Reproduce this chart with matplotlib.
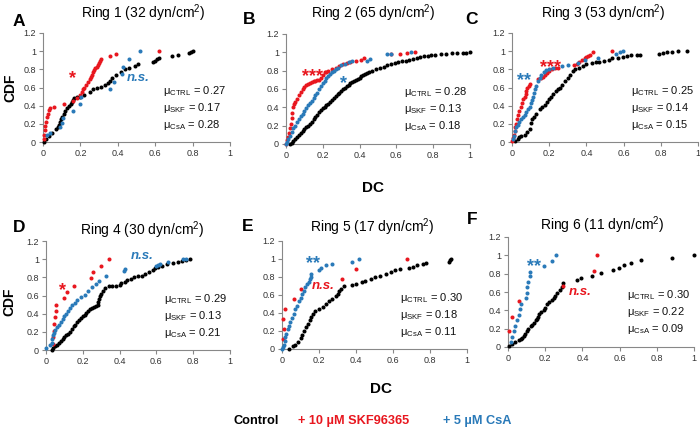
import matplotlib
matplotlib.use('Agg')
import matplotlib.pyplot as plt

plt.rcParams['font.family'] = ['Liberation Sans', 'DejaVu Sans']
plt.rcParams['mathtext.fontset'] = 'custom'
plt.rcParams['mathtext.rm'] = 'Liberation Sans'
plt.rcParams['mathtext.it'] = 'Liberation Sans:italic'
plt.rcParams['mathtext.bf'] = 'Liberation Sans:bold'

RED = '#e8171f'
BLUE = '#2a7ab9'
BLACK = '#000000'

# ---- data: DC value (x) and CDF (y) of each group ----
# Ring 1
a_ctrl_x = [0.005, 0.014, 0.03, 0.05, 0.068, 0.078, 0.086, 0.092, 0.097, 0.103, 0.11, 0.12, 0.13, 0.14,
            0.15, 0.157, 0.163, 0.168, 0.18, 0.2, 0.22, 0.25, 0.27, 0.29, 0.31, 0.33, 0.345, 0.36, 0.37,
            0.39, 0.415, 0.44, 0.46, 0.49, 0.51, 0.59, 0.6, 0.61, 0.62, 0.69, 0.72, 0.78, 0.79, 0.8]
a_ctrl_y = [0.0, 0.03, 0.065, 0.1, 0.14, 0.17, 0.19, 0.22, 0.25, 0.28, 0.31, 0.34, 0.37, 0.4,
            0.42, 0.44, 0.46, 0.48, 0.5, 0.5, 0.52, 0.55, 0.58, 0.6, 0.61, 0.63, 0.65, 0.67, 0.7,
            0.74, 0.77, 0.8, 0.82, 0.84, 0.86, 0.88, 0.89, 0.91, 0.93, 0.95, 0.96, 0.98, 0.99, 1.0]
a_skf_x = [0.003, 0.006, 0.009, 0.012, 0.015, 0.02, 0.025, 0.03, 0.035, 0.06, 0.11, 0.16, 0.18, 0.2,
           0.21, 0.215, 0.22, 0.23, 0.24, 0.25, 0.255, 0.26, 0.27, 0.275, 0.28, 0.29, 0.295, 0.3,
           0.305, 0.31, 0.36, 0.39, 0.62]
a_skf_y = [0.03, 0.08, 0.13, 0.18, 0.22, 0.27, 0.31, 0.35, 0.37, 0.39, 0.42, 0.45, 0.48, 0.52,
           0.55, 0.58, 0.6, 0.63, 0.66, 0.69, 0.72, 0.74, 0.77, 0.79, 0.81, 0.83, 0.85, 0.87,
           0.89, 0.91, 0.95, 0.97, 1.0]
a_csa_x = [0.02, 0.04, 0.09, 0.1, 0.107, 0.16, 0.196, 0.205, 0.357, 0.38, 0.42, 0.43, 0.46, 0.52]
a_csa_y = [0.08, 0.1, 0.17, 0.21, 0.26, 0.34, 0.42, 0.5, 0.58, 0.66, 0.75, 0.83, 0.91, 1.0]

# Ring 2
b_ctrl_x = [0.02, 0.03, 0.04, 0.05, 0.06, 0.07, 0.08, 0.09, 0.1, 0.11, 0.12, 0.13, 0.14, 0.15, 0.16,
            0.17, 0.18, 0.19, 0.2, 0.21, 0.22, 0.23, 0.24, 0.25, 0.26, 0.27, 0.28, 0.29, 0.3, 0.31,
            0.32, 0.33, 0.34, 0.35, 0.36, 0.37, 0.38, 0.39, 0.4, 0.41, 0.42, 0.43, 0.44, 0.45, 0.47,
            0.49, 0.51, 0.53, 0.55, 0.57, 0.59, 0.61, 0.63, 0.65, 0.67, 0.69, 0.71, 0.73, 0.75, 0.77,
            0.79, 0.81, 0.84, 0.87, 0.9, 0.93, 0.96, 0.98, 1.0]
b_ctrl_y = [0.0, 0.01, 0.03, 0.055, 0.075, 0.095, 0.115, 0.14, 0.165, 0.185, 0.2, 0.22, 0.245, 0.27,
            0.295, 0.32, 0.345, 0.37, 0.39, 0.405, 0.42, 0.44, 0.46, 0.48, 0.5, 0.52, 0.54, 0.56,
            0.58, 0.6, 0.615, 0.63, 0.645, 0.66, 0.675, 0.685, 0.7, 0.71, 0.725, 0.74, 0.75, 0.765,
            0.775, 0.785, 0.8, 0.815, 0.825, 0.84, 0.86, 0.87, 0.885, 0.895, 0.9, 0.91, 0.92, 0.93,
            0.94, 0.95, 0.955, 0.965, 0.97, 0.975, 0.98, 0.985, 0.99, 0.993, 0.996, 0.998, 1.0]
b_skf_x = [0.0, 0.005, 0.01, 0.014, 0.02, 0.025, 0.03, 0.035, 0.04, 0.045, 0.05, 0.06, 0.07, 0.08,
           0.09, 0.1, 0.11, 0.12, 0.13, 0.14, 0.15, 0.16, 0.17, 0.18, 0.19, 0.2, 0.21, 0.22, 0.23,
           0.25, 0.27, 0.29, 0.31, 0.33, 0.35, 0.38, 0.41, 0.425, 0.57, 0.62, 0.66, 0.7]
b_skf_y = [0.0, 0.04, 0.08, 0.12, 0.17, 0.22, 0.28, 0.34, 0.4, 0.44, 0.46, 0.49, 0.53, 0.57,
           0.6, 0.62, 0.64, 0.655, 0.665, 0.675, 0.685, 0.69, 0.695, 0.7, 0.72, 0.75, 0.78, 0.79,
           0.8, 0.815, 0.83, 0.85, 0.87, 0.88, 0.89, 0.905, 0.92, 0.94, 0.98, 0.98, 0.99, 1.0]
b_csa_x = [0.0, 0.005, 0.01, 0.02, 0.03, 0.04, 0.05, 0.06, 0.07, 0.08, 0.09, 0.1, 0.11, 0.12, 0.13,
           0.14, 0.15, 0.16, 0.17, 0.18, 0.19, 0.2, 0.21, 0.22, 0.23, 0.24, 0.25, 0.26, 0.27, 0.28,
           0.3, 0.32, 0.34, 0.36, 0.44, 0.455, 0.55, 0.57, 0.68]
b_csa_y = [0.0, 0.02, 0.05, 0.09, 0.13, 0.17, 0.2, 0.24, 0.27, 0.3, 0.33, 0.36, 0.39, 0.42, 0.45,
           0.47, 0.5, 0.53, 0.56, 0.6, 0.63, 0.66, 0.69, 0.72, 0.74, 0.76, 0.78, 0.8, 0.82, 0.83,
           0.86, 0.87, 0.89, 0.91, 0.91, 0.93, 0.98, 0.98, 1.0]

# Ring 3
c_ctrl_x = [0.014, 0.03, 0.04, 0.05, 0.068, 0.08, 0.095, 0.1, 0.11, 0.12, 0.13, 0.148, 0.16, 0.175,
            0.19, 0.2, 0.21, 0.22, 0.235, 0.245, 0.26, 0.27, 0.285, 0.3, 0.31, 0.326, 0.34, 0.36,
            0.38, 0.4, 0.43, 0.45, 0.47, 0.497, 0.52, 0.54, 0.57, 0.595, 0.62, 0.64, 0.67, 0.69,
            0.79, 0.81, 0.835, 0.86, 0.89, 0.94]
c_ctrl_y = [0.01, 0.03, 0.05, 0.065, 0.08, 0.11, 0.14, 0.21, 0.25, 0.28, 0.31, 0.36, 0.38, 0.41,
            0.44, 0.47, 0.5, 0.53, 0.56, 0.58, 0.6, 0.63, 0.67, 0.71, 0.74, 0.78, 0.8, 0.82,
            0.84, 0.86, 0.87, 0.88, 0.885, 0.89, 0.9, 0.92, 0.93, 0.94, 0.95, 0.96, 0.96, 0.96,
            0.97, 0.98, 0.99, 0.99, 1.0, 1.0]
c_skf_x = [0.0, 0.005, 0.01, 0.014, 0.018, 0.023, 0.028, 0.034, 0.04, 0.047, 0.054, 0.06, 0.068,
           0.073, 0.077, 0.083, 0.09, 0.095, 0.14, 0.157, 0.165, 0.175, 0.19, 0.2, 0.215, 0.23,
           0.245, 0.335, 0.35, 0.36, 0.375, 0.39, 0.4, 0.41, 0.42, 0.435, 0.535]
c_skf_y = [0.01, 0.04, 0.08, 0.12, 0.16, 0.2, 0.25, 0.3, 0.34, 0.39, 0.43, 0.47, 0.5,
           0.53, 0.56, 0.59, 0.62, 0.64, 0.69, 0.71, 0.72, 0.74, 0.76, 0.78, 0.8, 0.81,
           0.82, 0.85, 0.86, 0.88, 0.9, 0.92, 0.94, 0.95, 0.96, 0.99, 1.0]
c_csa_x = [0.005, 0.01, 0.014, 0.02, 0.03, 0.04, 0.05, 0.06, 0.068, 0.077, 0.086, 0.095, 0.1, 0.107,
           0.113, 0.12, 0.125, 0.13, 0.14, 0.15, 0.157, 0.17, 0.184, 0.2, 0.22, 0.27, 0.3, 0.355,
           0.39, 0.46, 0.56, 0.58, 0.595]
c_csa_y = [0.03, 0.07, 0.12, 0.16, 0.19, 0.22, 0.25, 0.28, 0.3, 0.33, 0.36, 0.39, 0.43, 0.46,
           0.5, 0.54, 0.58, 0.62, 0.67, 0.71, 0.74, 0.77, 0.79, 0.8, 0.81, 0.84, 0.85, 0.87,
           0.9, 0.93, 0.97, 0.99, 1.0]

# Ring 4
d_ctrl_x = [0.03, 0.04, 0.05, 0.06, 0.07, 0.08, 0.09, 0.1, 0.11, 0.12, 0.13, 0.14, 0.15, 0.16, 0.17,
            0.18, 0.19, 0.2, 0.21, 0.22, 0.23, 0.24, 0.25, 0.26, 0.27, 0.28, 0.285, 0.29, 0.295, 0.3,
            0.31, 0.32, 0.34, 0.36, 0.38, 0.4, 0.41, 0.43, 0.44, 0.46, 0.48, 0.5, 0.52, 0.54, 0.56,
            0.58, 0.595, 0.61, 0.63, 0.66, 0.69, 0.72, 0.74, 0.76, 0.78]
d_ctrl_y = [0.0, 0.02, 0.04, 0.06, 0.08, 0.1, 0.12, 0.14, 0.16, 0.18, 0.2, 0.23, 0.26, 0.28, 0.31,
            0.33, 0.35, 0.37, 0.39, 0.41, 0.43, 0.45, 0.46, 0.47, 0.48, 0.5, 0.53, 0.56, 0.59, 0.62,
            0.65, 0.68, 0.7, 0.7, 0.71, 0.72, 0.74, 0.75, 0.77, 0.78, 0.8, 0.81, 0.82, 0.84, 0.86,
            0.88, 0.9, 0.91, 0.93, 0.95, 0.96, 0.97, 0.98, 0.99, 1.0]
d_skf_x = [0.036, 0.04, 0.043, 0.046, 0.05, 0.054, 0.055, 0.1, 0.115, 0.15, 0.245, 0.255, 0.3, 0.34]
d_skf_y = [0.07, 0.14, 0.21, 0.29, 0.36, 0.43, 0.5, 0.57, 0.64, 0.71, 0.79, 0.86, 0.93, 1.0]
d_csa_x = [0.0, 0.02, 0.03, 0.035, 0.04, 0.045, 0.05, 0.06, 0.068, 0.08, 0.09, 0.1, 0.11, 0.12, 0.13,
           0.14, 0.157, 0.17, 0.19, 0.21, 0.23, 0.25, 0.27, 0.29, 0.327, 0.425, 0.43, 0.6, 0.61,
           0.62, 0.665, 0.745, 0.76]
d_csa_y = [0.02, 0.05, 0.08, 0.12, 0.16, 0.19, 0.22, 0.25, 0.27, 0.31, 0.34, 0.37, 0.4, 0.43, 0.46,
           0.49, 0.52, 0.55, 0.58, 0.61, 0.65, 0.69, 0.73, 0.76, 0.82, 0.87, 0.89, 0.92, 0.94,
           0.95, 0.97, 1.0, 1.0]

# Ring 5
e_ctrl_x = [0.04, 0.06, 0.07, 0.086, 0.1, 0.11, 0.12, 0.13, 0.14, 0.15, 0.157, 0.165, 0.18, 0.2,
            0.22, 0.24, 0.255, 0.27, 0.29, 0.3, 0.31, 0.32, 0.336, 0.38, 0.4, 0.43, 0.45, 0.48,
            0.505, 0.53, 0.56, 0.59, 0.61, 0.64, 0.685, 0.71, 0.73, 0.76, 0.78, 0.905, 0.91, 0.915]
e_ctrl_y = [0.0, 0.03, 0.05, 0.08, 0.12, 0.16, 0.2, 0.24, 0.28, 0.32, 0.36, 0.39, 0.42, 0.45,
            0.47, 0.5, 0.53, 0.56, 0.59, 0.61, 0.64, 0.67, 0.7, 0.71, 0.72, 0.74, 0.76, 0.78,
            0.8, 0.81, 0.83, 0.86, 0.88, 0.89, 0.9, 0.91, 0.93, 0.95, 0.96, 0.97, 0.99, 1.0]
e_skf_x = [0.005, 0.01, 0.005, 0.018, 0.064, 0.104, 0.323, 0.4, 0.675]
e_skf_y = [0.11, 0.22, 0.33, 0.44, 0.56, 0.67, 0.78, 0.89, 1.0]
e_csa_x = [0.0, 0.005, 0.01, 0.014, 0.018, 0.023, 0.03, 0.037, 0.045, 0.055, 0.064, 0.072, 0.08,
           0.09, 0.1, 0.108, 0.118, 0.127, 0.136, 0.145, 0.15, 0.155, 0.157, 0.2, 0.21, 0.24,
           0.27, 0.38, 0.415]
e_csa_y = [0.0, 0.02, 0.05, 0.09, 0.13, 0.17, 0.22, 0.26, 0.3, 0.35, 0.39, 0.44, 0.48,
           0.53, 0.57, 0.61, 0.65, 0.69, 0.72, 0.75, 0.78, 0.8, 0.83, 0.88, 0.9, 0.93,
           0.95, 0.97, 1.0]

# Ring 6
f_ctrl_x = [0.005, 0.023, 0.04, 0.059, 0.07, 0.077, 0.086, 0.094, 0.1, 0.11, 0.121, 0.13, 0.139,
            0.148, 0.154, 0.16, 0.166, 0.18, 0.193, 0.2, 0.207, 0.22, 0.237, 0.246, 0.255, 0.265,
            0.28, 0.29, 0.296, 0.37, 0.39, 0.45, 0.5, 0.565, 0.595, 0.625, 0.66, 0.715, 0.88, 1.0]
f_ctrl_y = [0.007, 0.036, 0.055, 0.073, 0.085, 0.098, 0.12, 0.145, 0.18, 0.2, 0.225, 0.245, 0.265,
            0.29, 0.31, 0.33, 0.36, 0.38, 0.4, 0.43, 0.47, 0.49, 0.51, 0.53, 0.56, 0.59,
            0.62, 0.65, 0.7, 0.73, 0.75, 0.78, 0.81, 0.84, 0.86, 0.89, 0.92, 0.95, 0.97, 1.0]
f_skf_x = [0.005, 0.023, 0.06, 0.296, 0.46, 0.48]
f_skf_y = [0.17, 0.33, 0.5, 0.67, 0.83, 1.0]
f_csa_x = [0.014, 0.023, 0.03, 0.04, 0.05, 0.06, 0.064, 0.068, 0.095, 0.1, 0.104, 0.107, 0.118,
           0.118, 0.196, 0.237, 0.26]
f_csa_y = [0.05, 0.11, 0.17, 0.23, 0.29, 0.35, 0.41, 0.47, 0.53, 0.59, 0.65, 0.71, 0.77,
           0.82, 0.88, 0.94, 1.0]

titles = ['Ring 1 (32 dyn/cm$^2$)', 'Ring 2 (65 dyn/cm$^2$)', 'Ring 3 (53 dyn/cm$^2$)',
          'Ring 4 (30 dyn/cm$^2$)', 'Ring 5 (17 dyn/cm$^2$)', 'Ring 6 (11 dyn/cm$^2$)']
letters = ['A', 'B', 'C', 'D', 'E', 'F']
mu_ctrl = ['0.27', '0.28', '0.25', '0.29', '0.30', '0.30']
mu_skf = ['0.17', '0.13', '0.14', '0.13', '0.18', '0.22']
mu_csa = ['0.28', '0.18', '0.15', '0.21', '0.11', '0.09']

W, H = 700, 432
fig = plt.figure(figsize=(7, 4.32), dpi=100)


def fx(p):
    return p / W


def fy(p):
    return 1 - p / H


# axes boxes in pixels: left, right, top, bottom
boxes = [(43, 230, 33, 142), (286, 470, 34, 144), (512, 698, 33, 142),
         (46, 230, 241, 350), (282, 467, 241, 349), (508, 694, 237, 347)]
title_pos = [(143, 13), (373, 13), (603, 13), (142, 230), (372, 227), (602, 225)]
letter_pos = [(19, 21), (249, 19), (472, 19), (19, 228), (248, 227), (472, 219)]

series = [
    (a_ctrl_x, a_ctrl_y, a_skf_x, a_skf_y, a_csa_x, a_csa_y),
    (b_ctrl_x, b_ctrl_y, b_skf_x, b_skf_y, b_csa_x, b_csa_y),
    (c_ctrl_x, c_ctrl_y, c_skf_x, c_skf_y, c_csa_x, c_csa_y),
    (d_ctrl_x, d_ctrl_y, d_skf_x, d_skf_y, d_csa_x, d_csa_y),
    (e_ctrl_x, e_ctrl_y, e_skf_x, e_skf_y, e_csa_x, e_csa_y),
    (f_ctrl_x, f_ctrl_y, f_skf_x, f_skf_y, f_csa_x, f_csa_y),
]

# significance marks: (text, x, y, colour, italic)
marks = [
    [('*', 0.16, 0.77, RED, False), ('n.s.', 0.51, 0.71, BLUE, True)],
    [('***', 0.143, 0.81, RED, False), ('*', 0.31, 0.73, BLUE, False)],
    [('***', 0.205, 0.89, RED, False), ('**', 0.064, 0.75, BLUE, False)],
    [('*', 0.09, 0.72, RED, False), ('n.s.', 0.52, 1.03, BLUE, True)],
    [('**', 0.166, 1.02, BLUE, False), ('n.s.', 0.223, 0.70, RED, True)],
    [('**', 0.139, 0.945, BLUE, False), ('n.s.', 0.389, 0.60, RED, True)],
]

for i in range(6):
    l, r, t, b = boxes[i]
    ax = fig.add_axes([fx(l), fy(b), (r - l) / W, (b - t) / H])
    cx, cy, sx, sy, bx, by = series[i]
    ax.scatter(cx, cy, s=8.5, color=BLACK, linewidths=0, clip_on=False, zorder=3)
    ax.scatter(sx, sy, s=8.5, color=RED, linewidths=0, clip_on=False, zorder=4)
    ax.scatter(bx, by, s=8.5, color=BLUE, linewidths=0, clip_on=False, zorder=5)
    ax.set_xlim(0, 1)
    ax.set_ylim(0, 1.2)
    ax.set_xticks([0, 0.2, 0.4, 0.6, 0.8, 1])
    ax.set_xticklabels(['0', '0.2', '0.4', '0.6', '0.8', '1'])
    ax.set_yticks([0, 0.2, 0.4, 0.6, 0.8, 1, 1.2])
    ax.set_yticklabels(['0', '0.2', '0.4', '0.6', '0.8', '1', '1.2'])
    ax.tick_params(labelsize=6.5, labelcolor='#333333', color='#888888', length=3, width=0.8, pad=2)
    for s in ['top', 'right']:
        ax.spines[s].set_visible(False)
    for s in ['left', 'bottom']:
        ax.spines[s].set_color('#888888')
        ax.spines[s].set_linewidth(0.8)
    ax.patch.set_alpha(0)

    for txt, x, y, col, it in marks[i]:
        if it:
            ax.text(x, y, txt, color=col, fontsize=9.5, fontweight='bold', style='italic',
                    ha='center', va='center')
        else:
            ax.text(x, y - 0.07, txt, color=col, fontsize=13, fontweight='bold',
                    ha='center', va='center')

    for k, (name, val) in enumerate([('CTRL', mu_ctrl[i]), ('SKF', mu_skf[i]), ('CsA', mu_csa[i])]):
        ax.text(0.64, 0.47 - k * 0.155, 'μ$_{\\mathrm{%s}}$ = %s' % (name, val),
                transform=ax.transAxes, fontsize=8, ha='left', va='center', color='#111111')

    tx, ty = title_pos[i]
    fig.text(fx(tx), fy(ty), titles[i], fontsize=10, ha='center', va='center')
    lx, ly = letter_pos[i]
    fig.text(fx(lx), fy(ly), letters[i], fontsize=12.5, fontweight='bold', ha='center', va='center')

fig.text(fx(10), fy(88), 'CDF', fontsize=10, fontweight='bold', rotation=90, ha='center', va='center')
fig.text(fx(9), fy(302), 'CDF', fontsize=10, fontweight='bold', rotation=90, ha='center', va='center')
fig.text(fx(373), fy(188), 'DC', fontsize=11, fontweight='bold', ha='center', va='center')
fig.text(fx(381), fy(389), 'DC', fontsize=11, fontweight='bold', ha='center', va='center')

fig.text(fx(233), fy(421), 'Control', fontsize=9.2, fontweight='bold', color=BLACK, ha='left', va='center')
fig.text(fx(298), fy(421), '+ 10 µM SKF96365', fontsize=9.2, fontweight='bold', color=RED, ha='left', va='center')
fig.text(fx(443), fy(421), '+ 5 µM CsA', fontsize=9.2, fontweight='bold', color=BLUE, ha='left', va='center')

fig.savefig('out.png', dpi=100)
